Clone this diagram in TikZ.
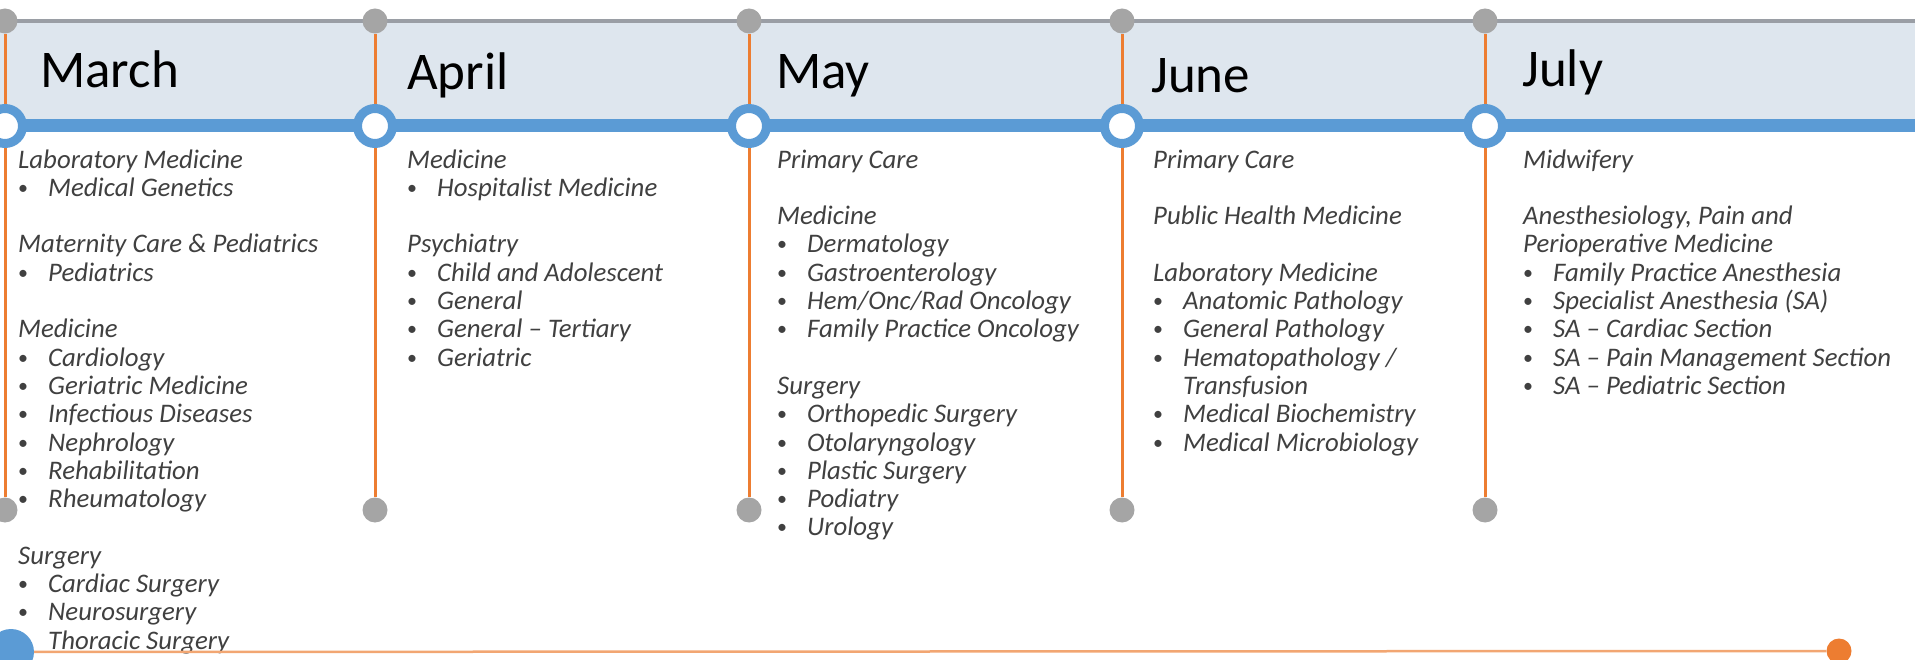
\documentclass[tikz,border=0pt]{standalone}
\usepackage{fontspec}
\setmainfont{Carlito}
\usepackage{xcolor}
\usetikzlibrary{positioning}

\definecolor{bandfill}{HTML}{DEE6EE}
\definecolor{railgray}{HTML}{9A9EA5}
\definecolor{dotgray}{HTML}{A5A5A5}
\definecolor{lineblue}{HTML}{5B9BD5}
\definecolor{lineorange}{HTML}{ED7D31}
\definecolor{paleorange}{HTML}{F2A672}
\definecolor{bodytext}{HTML}{404040}

\newcommand{\bul}[1]{\makebox[30pt][l]{\raisebox{2pt}{\upshape\fontsize{20}{20}\selectfont\textbullet}}#1}
% baselines: first line at 168, then 28.3 per line; the node sits on its last line
\newcommand{\lastline}[1]{168+#1*28.3}

\begin{document}
\begin{tikzpicture}[x=1pt, y=-1pt,
  month/.style={anchor=base west, inner sep=0pt, font=\fontsize{53}{60}\selectfont},
  topics/.style={anchor=base west, inner sep=0pt, align=left, text=bodytext,
    font=\fontsize{26.8}{28.3}\selectfont\itshape},
  graydot/.style={circle, fill=dotgray, inner sep=0pt, minimum size=25pt},
  ring/.style={circle, draw=lineblue, line width=9pt, fill=white, inner sep=0pt, minimum size=35pt},
  rail/.style={lineorange, line width=3pt}]
\useasboundingbox (0,0) rectangle (1915,660);
\clip (0,0) rectangle (1915,660);

\fill[bandfill] (0,21) rectangle (1915,126);
\coordinate (tl) at (0,21);
\coordinate (tr) at (1915,21);
\draw[railgray, line width=4pt] (tl) -- (tr);

\foreach \n/\x in {1/5,2/375,3/749,4/1122,5/1485} {
  \node[graydot] (t\n) at (\x,21) {};
  \node[graydot] (b\n) at (\x,510) {};
  \draw[rail] (t\n) -- (b\n);
}

\coordinate (bl) at (0,126);
\coordinate (br) at (1915,126);
\draw[lineblue, line width=13pt] (bl) -- (br);
\foreach \n/\x in {1/5,2/375,3/749,4/1122,5/1485}
  \node[ring] (r\n) at (\x,126) {};

\node[month] (march) at (40,88) {March};
\node[month] (april) at (407,90) {April};
\node[month] (may) at (776,89) {May};
\node[month] (june) at (1151,93) {June};
\node[month] (july) at (1522,87) {July};

\node[topics] (marchlist) at (18,{\lastline{17}}) {Laboratory Medicine\\
  \bul{Medical Genetics}\\[28.3pt]
  Maternity Care \& Pediatrics\\
  \bul{Pediatrics}\\[28.3pt]
  Medicine\\
  \bul{Cardiology}\\
  \bul{Geriatric Medicine}\\
  \bul{Infectious Diseases}\\
  \bul{Nephrology}\\
  \bul{Rehabilitation}\\
  \bul{Rheumatology}\\[28.3pt]
  Surgery\\
  \bul{Cardiac Surgery}\\
  \bul{Neurosurgery}\\
  \bul{Thoracic Surgery}};

\node[topics] (aprillist) at (407,{\lastline{7}}) {Medicine\\
  \bul{Hospitalist Medicine}\\[28.3pt]
  Psychiatry\\
  \bul{Child and Adolescent}\\
  \bul{General}\\
  \bul{General -- Tertiary}\\
  \bul{Geriatric}};

\node[topics] (maylist) at (777,{\lastline{13}}) {Primary Care\\[28.3pt]
  Medicine\\
  \bul{Dermatology}\\
  \bul{Gastroenterology}\\
  \bul{Hem/Onc/Rad Oncology}\\
  \bul{Family Practice Oncology}\\[28.3pt]
  Surgery\\
  \bul{Orthopedic Surgery}\\
  \bul{Otolaryngology}\\
  \bul{Plastic Surgery}\\
  \bul{Podiatry}\\
  \bul{Urology}};

\node[topics] (junelist) at (1153,{\lastline{10}}) {Primary Care\\[28.3pt]
  Public Health Medicine\\[28.3pt]
  Laboratory Medicine\\
  \bul{Anatomic Pathology}\\
  \bul{General Pathology}\\
  \bul{Hematopathology /}\\
  \hspace*{30pt}Transfusion\\
  \bul{Medical Biochemistry}\\
  \bul{Medical Microbiology}};

\node[topics] (julylist) at (1523,{\lastline{8}}) {Midwifery\\[28.3pt]
  Anesthesiology, Pain and\\
  Perioperative Medicine\\
  \bul{Family Practice Anesthesia}\\
  \bul{Specialist Anesthesia (SA)}\\
  \bul{SA -- Cardiac Section}\\
  \bul{SA -- Pain Management Section}\\
  \bul{SA -- Pediatric Section}};

\node[circle, fill=lineblue, inner sep=0pt, minimum size=46pt] (start) at (11,652) {};
\node[circle, fill=lineorange, inner sep=0pt, minimum size=25pt] (finish) at (1839,651) {};
\draw[paleorange, line width=2.5pt] (start) -- (finish);
\end{tikzpicture}
\end{document}
